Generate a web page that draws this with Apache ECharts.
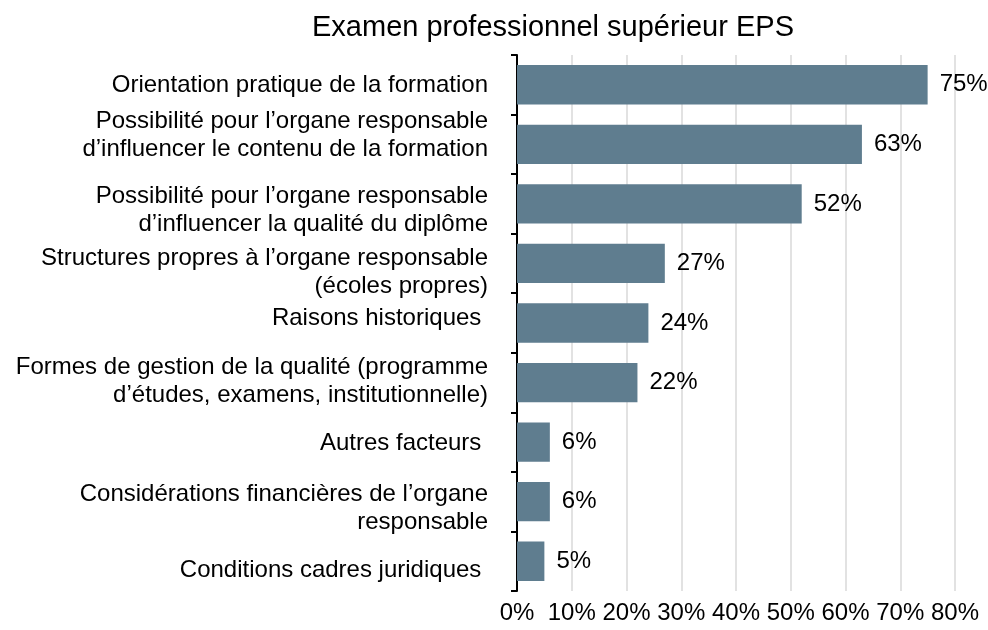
<!DOCTYPE html>
<html>
<head>
<meta charset="utf-8">
<script src="https://cdn.jsdelivr.net/npm/echarts@6/dist/echarts.min.js"></script>
<style>html,body{margin:0;padding:0;background:#fff}#c{width:988px;height:630px}</style>
</head>
<body>
<div id="c"></div>
<script>
const titleText = 'Examen professionnel supérieur EPS';
const categories = [
  'Orientation pratique de la formation',
  'Possibilité pour l’organe responsable\nd’influencer le contenu de la formation',
  'Possibilité pour l’organe responsable\nd’influencer la qualité du diplôme',
  'Structures propres à l’organe responsable\n(écoles propres)',
  'Raisons historiques ',
  'Formes de gestion de la qualité (programme\nd’études, examens, institutionnelle)',
  'Autres facteurs ',
  'Considérations financières de l’organe\nresponsable',
  'Conditions cadres juridiques '
];
const values = [75, 63, 52, 27, 24, 22, 6, 6, 5];
const axisTicks = [0, 10, 20, 30, 40, 50, 60, 70, 80];

// vertical nudges of the category labels (px, negative = up), layout only
const labelShift = [1, -9, 6, 9, -5, -1, 1, 7, 9];

const font = 'Arial, "Liberation Sans", sans-serif';
const base = { fontFamily: font, fontSize: 24, color: '#000', lineHeight: 28 };
const rich = {};
labelShift.forEach((s, i) => {
  rich['o' + i] = Object.assign({}, base, { padding: s > 0 ? [2 * s, 0, 0, 0] : [0, 0, -2 * s, 0] });
});
function fmt(v, i) {
  return v.split('\n').map(l => '{o' + i + '|' + l + '}').join('\n');
}

const chart = echarts.init(document.getElementById('c'));
chart.setOption({
  animation: false,
  title: {
    text: titleText,
    left: 548, top: 8, textAlign: 'center',
    textStyle: { fontFamily: font, fontSize: 29, fontWeight: 'normal', color: '#000' }
  },
  grid: { left: 517, right: 33, top: 55, bottom: 39, containLabel: false },
  xAxis: {
    type: 'value',
    min: axisTicks[0], max: axisTicks[axisTicks.length - 1], interval: 10,
    axisLine: { show: false }, axisTick: { show: false },
    splitLine: { show: true, lineStyle: { color: '#d9d9d9', width: 1.5 } },
    axisLabel: { formatter: v => v + '%', fontFamily: font, fontSize: 24, color: '#000', margin: 10 }
  },
  yAxis: {
    type: 'category', data: categories, inverse: true,
    axisLine: { show: true, lineStyle: { color: '#000', width: 2 } },
    axisTick: { show: true, length: 6, lineStyle: { color: '#000', width: 2 } },
    axisLabel: { fontFamily: font, fontSize: 24, color: '#000', margin: 29, lineHeight: 28, align: 'right', formatter: fmt, rich: rich }
  },
  series: [{
    type: 'bar', data: values,
    barCategoryGap: '34%',
    itemStyle: { color: '#5f7d8f' },
    label: { show: true, position: 'right', distance: 12, formatter: p => p.value + '%', fontFamily: font, fontSize: 24, color: '#000' }
  }]
});
</script>
</body>
</html>
